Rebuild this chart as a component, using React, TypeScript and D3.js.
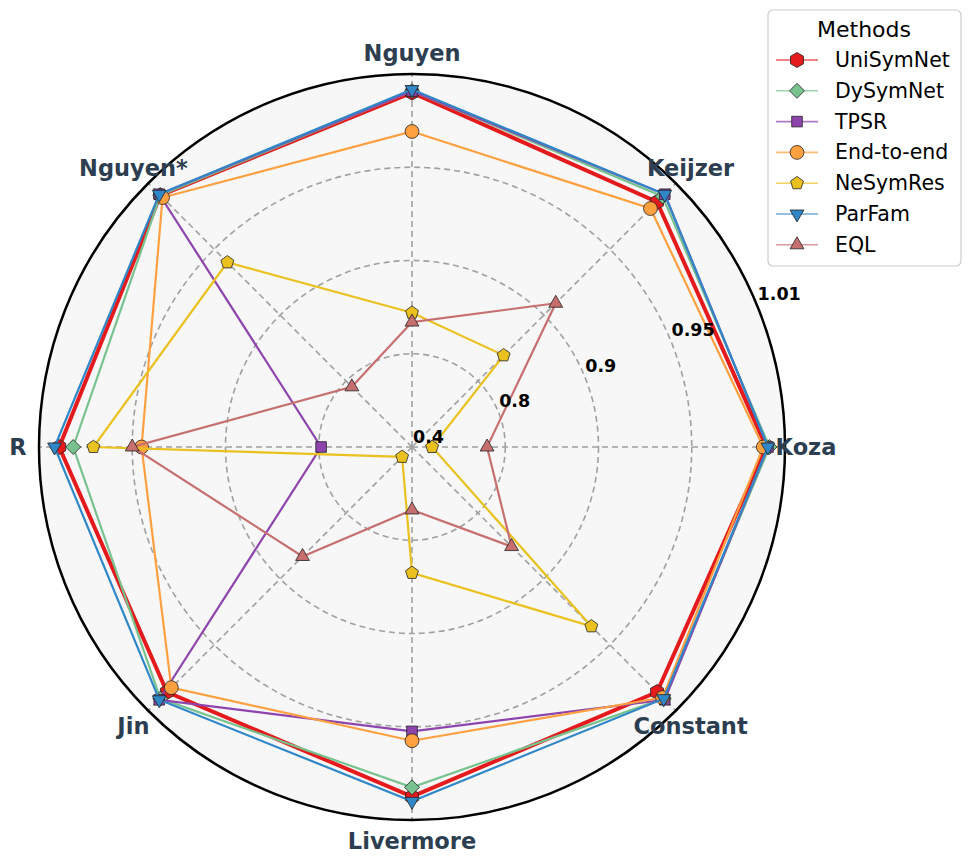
import * as d3 from 'd3'

const categories = ['Nguyen', 'Keijzer', 'Koza', 'Constant', 'Livermore', 'Jin', 'R', 'Nguyen*']
const tickValues = [0.4, 0.8, 0.9, 0.95, 1.01]
const tickLabels = ['0.4', '0.8', '0.9', '0.95', '1.01']

// one value per category, same order as categories
const uniSymNet = [0.998, 0.993, 0.998, 0.993, 0.995, 0.993, 0.997, 0.999]
const dySymNet = [0.999, 0.998, 1.0, 0.999, 0.989, 0.999, 0.988, 0.999]
const tpsr = [0.999, 1.0, 0.999, 1.0, 0.953, 1.0, 0.79, 1.0]
const endToEnd = [0.973, 0.987, 0.996, 0.998, 0.959, 0.989, 0.945, 0.997]
const neSymRes = [0.844, 0.839, 0.486, 0.936, 0.835, 0.46, 0.975, 0.94]
const parFam = [1.0, 1.0, 0.999, 0.999, 0.998, 1.0, 1.0, 1.0]
const eql = [0.834, 0.909, 0.722, 0.851, 0.67, 0.866, 0.95, 0.765]

const seriesNames = ['UniSymNet', 'DySymNet', 'TPSR', 'End-to-end', 'NeSymRes', 'ParFam', 'EQL']
const seriesValues = [uniSymNet, dySymNet, tpsr, endToEnd, neSymRes, parFam, eql]
const seriesColors = ['#e41a1c', '#78c28f', '#8e44ad', '#ffa040', '#ebc11f', '#3087c8', '#c76f6f']
const seriesMarkers = ['hexagon', 'diamond', 'square', 'circle', 'pentagon', 'triDown', 'triUp']

const width = 972
const height = 862
const cx = 412
const cy = 447
const R = 373
const font = 'DejaVu Sans, sans-serif'

// regular polygon marker, first vertex pointing up
function polygon(n: number, r: number, rot = 0) {
  const pts = d3.range(n).map((i) => {
    const a = rot + (i * 2 * Math.PI) / n
    return [r * Math.sin(a), -r * Math.cos(a)]
  })
  return 'M' + pts.map((p) => p.join(',')).join('L') + 'Z'
}

function markerPath(kind: string) {
  switch (kind) {
    case 'hexagon':
      return polygon(6, 7.5)
    case 'diamond':
      return polygon(4, 7.5)
    case 'square':
      return polygon(4, 7.5, Math.PI / 4)
    case 'circle':
      return d3.symbol(d3.symbolCircle, 150)() as string
    case 'pentagon':
      return polygon(5, 6.8)
    case 'triDown':
      return polygon(3, 8, Math.PI)
    default:
      return polygon(3, 8)
  }
}

export default function App() {
  const r = d3.scaleLinear().domain(tickValues).range([0, R / 4, R / 2, (3 * R) / 4, R])
  const angle = d3
    .scalePoint<string>()
    .domain(categories)
    .range([0, 2 * Math.PI - (2 * Math.PI) / categories.length])

  const line = d3
    .lineRadial<number>()
    .angle((_, i) => angle(categories[i]) as number)
    .radius((d) => r(d))
    .curve(d3.curveLinearClosed)

  const labelAngle = (22.5 * Math.PI) / 180

  return (
    <svg
      width={width}
      height={height}
      style={{ position: 'absolute', left: 0, top: 0, background: '#fff' }}
      fontFamily={font}
    >
      <g transform={`translate(${cx},${cy})`}>
        <circle r={R} fill="#f7f7f7" />
        {tickValues.slice(1, -1).map((t) => (
          <circle
            key={t}
            r={r(t)}
            fill="none"
            stroke="#a0a0a0"
            strokeWidth={1.6}
            strokeDasharray="6,4"
          />
        ))}
        {categories.map((c) => {
          const [x, y] = d3.pointRadial(angle(c) as number, R)
          return (
            <line
              key={c}
              x1={0}
              y1={0}
              x2={x}
              y2={y}
              stroke="#a0a0a0"
              strokeWidth={1.6}
              strokeDasharray="6,4"
            />
          )
        })}
        <circle r={R} fill="none" stroke="#000" strokeWidth={2.5} />

        {seriesValues.map((vals, s) => (
          <g key={seriesNames[s]}>
            <path
              d={line(vals) as string}
              fill="none"
              stroke={seriesColors[s]}
              strokeWidth={s === 0 ? 4 : 2.2}
              strokeLinejoin="miter"
            />
            {vals.map((v, i) => {
              const [x, y] = d3.pointRadial(angle(categories[i]) as number, r(v))
              return (
                <path
                  key={i}
                  d={markerPath(seriesMarkers[s])}
                  transform={`translate(${x},${y})`}
                  fill={seriesColors[s]}
                  stroke="#222"
                  strokeWidth={0.8}
                />
              )
            })}
          </g>
        ))}

        {tickValues.map((t, i) => {
          const [x, y] = [r(t) * Math.cos(labelAngle), -r(t) * Math.sin(labelAngle)]
          return (
            <text key={t} x={x + 1} y={y - 4} fontSize={17.5} fontWeight="bold" fill="#000">
              {tickLabels[i]}
            </text>
          )
        })}

        {categories.map((c) => {
          const [x, y] = d3.pointRadial(angle(c) as number, 394)
          return (
            <text
              key={c}
              x={x}
              y={y}
              textAnchor="middle"
              dominantBaseline="central"
              fontSize={22.5}
              fontWeight="bold"
              fill="#2c3e50"
            >
              {c}
            </text>
          )
        })}
      </g>

      <g transform="translate(768,10)">
        <rect
          width={193}
          height={256}
          rx={5}
          fill="#fff"
          fillOpacity={0.85}
          stroke="#cccccc"
          strokeWidth={1.2}
        />
        <text x={96} y={19} textAnchor="middle" dominantBaseline="central" fontSize={22}>
          Methods
        </text>
        {seriesNames.map((name, s) => {
          const y = 50 + s * 30.8
          return (
            <g key={name} transform={`translate(0,${y})`}>
              <line x1={8} x2={50} y1={0} y2={0} stroke={seriesColors[s]} strokeWidth={1.6} opacity={0.7} />
              <path
                d={markerPath(seriesMarkers[s])}
                transform="translate(29,0)"
                fill={seriesColors[s]}
                stroke="#222"
                strokeWidth={0.8}
              />
              <text x={67} y={0} dominantBaseline="central" fontSize={20.5}>
                {name}
              </text>
            </g>
          )
        })}
      </g>
    </svg>
  )
}
